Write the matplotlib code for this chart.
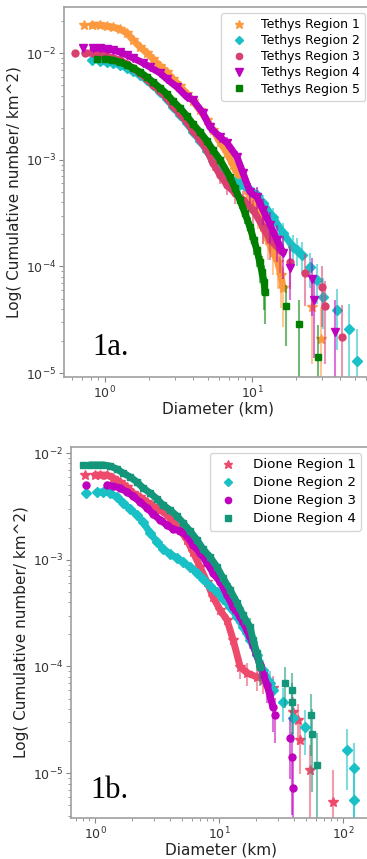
import matplotlib
matplotlib.use('Agg')
import matplotlib.pyplot as plt

# ---- Panel 1a: Tethys regions (diameter km, cumulative number / km^2, error) ----
tethys1_d = [0.72, 0.816, 0.925, 1.03, 1.13, 1.26, 1.41, 1.55, 1.73, 1.93, 2.12, 2.37, 2.64, 2.90,
             3.24, 3.61, 3.97, 4.43, 4.94, 5.43, 6.06, 6.76, 7.43, 8.28, 9.25, 10.2, 11.0, 11.9,
             12.8, 13.9, 15.0, 15.7, 16.3, 25.6, 29.5]
tethys1_n = [0.0183, 0.0183, 0.0183, 0.0179, 0.0175, 0.0168, 0.0154, 0.0133, 0.0114, 0.0100, 0.0088,
             0.00755, 0.00663, 0.0057, 0.0049, 0.00413, 0.00355, 0.0029, 0.00236, 0.0019, 0.00147,
             0.00116, 8.9e-4, 6.7e-4, 5.2e-4, 3.93e-4, 3.03e-4, 2.34e-4, 1.77e-4, 1.36e-4, 1.10e-4,
             8.3e-5, 6.3e-5, 4.17e-5, 2.09e-5]
tethys1_err = [6.2e-4, 6.2e-4, 6.2e-4, 6.1e-4, 6.05e-4, 5.9e-4, 5.7e-4, 5.3e-4, 4.9e-4, 4.6e-4, 4.3e-4,
               3.97e-4, 3.72e-4, 3.45e-4, 3.2e-4, 2.94e-4, 2.72e-4, 2.46e-4, 2.22e-4, 1.99e-4, 1.75e-4,
               1.56e-4, 1.36e-4, 1.18e-4, 1.04e-4, 9.1e-5, 8.0e-5, 7.0e-5, 6.1e-5, 5.3e-5, 4.8e-5,
               4.2e-5, 3.6e-5, 2.95e-5, 2.09e-5]
tethys1_band = 33

tethys2_d = [0.816, 0.925, 1.03, 1.13, 1.26, 1.41, 1.55, 1.73, 1.93, 2.12, 2.37, 2.64, 2.90, 3.24,
             3.61, 3.97, 4.43, 4.94, 5.43, 6.06, 7.08, 8.28, 9.69, 10.8, 11.9, 13.9, 16.3, 19.0,
             20.2, 21.9, 24.8, 27.7, 30.4, 37.9, 45.7, 51.8]
tethys2_n = [0.0086, 0.0084, 0.00824, 0.0081, 0.00773, 0.00723, 0.00678, 0.00622, 0.0056, 0.0050,
             0.00431, 0.00371, 0.00312, 0.00262, 0.00221, 0.00182, 0.0015, 0.00121, 9.7e-4, 7.8e-4,
             6.7e-4, 5.9e-4, 5.2e-4, 4.67e-4, 3.93e-4, 2.9e-4, 2.06e-4, 1.52e-4, 1.43e-4, 1.28e-4,
             9.9e-5, 7.5e-5, 5.2e-5, 3.9e-5, 2.59e-5, 1.30e-5]
tethys2_err = [3.34e-4, 3.3e-4, 3.27e-4, 3.24e-4, 3.17e-4, 3.07e-4, 2.97e-4, 2.84e-4, 2.7e-4, 2.55e-4,
               2.37e-4, 2.2e-4, 2.01e-4, 1.85e-4, 1.7e-4, 1.54e-4, 1.4e-4, 1.25e-4, 1.12e-4, 1.0e-4,
               9.3e-5, 8.8e-5, 8.2e-5, 7.8e-5, 7.1e-5, 6.1e-5, 5.2e-5, 4.4e-5, 4.3e-5, 4.1e-5,
               3.6e-5, 3.1e-5, 2.6e-5, 2.25e-5, 1.83e-5, 1.3e-5]
tethys2_band = 29

tethys3_d = [0.625, 0.73, 0.83, 0.925, 1.03, 1.13, 1.26, 1.41, 1.55, 1.73, 1.93, 2.12, 2.37, 2.64,
             2.90, 3.24, 3.61, 3.97, 4.43, 4.94, 5.43, 6.06, 6.76, 7.66, 8.69, 10.2, 11.9, 13.3,
             15.5, 18.2, 23.0, 29.9, 31.4, 41.0]
tethys3_n = [0.0100, 0.0100, 0.0100, 0.0098, 0.00937, 0.0090, 0.0086, 0.00789, 0.00723, 0.0065,
             0.0057, 0.0050, 0.0044, 0.00379, 0.00318, 0.00268, 0.00225, 0.00186, 0.00153, 0.00123,
             9.3e-4, 7.2e-4, 5.8e-4, 4.88e-4, 4.19e-4, 3.38e-4, 2.34e-4, 1.77e-4, 1.43e-4, 1.10e-4,
             8.7e-5, 6.4e-5, 4.25e-5, 2.18e-5]
tethys3_err = [4.67e-4, 4.67e-4, 4.67e-4, 4.62e-4, 4.52e-4, 4.43e-4, 4.33e-4, 4.15e-4, 3.97e-4, 3.76e-4,
               3.52e-4, 3.3e-4, 3.1e-4, 2.87e-4, 2.63e-4, 2.42e-4, 2.21e-4, 2.01e-4, 1.83e-4, 1.64e-4,
               1.42e-4, 1.25e-4, 1.12e-4, 1.03e-4, 9.6e-5, 8.6e-5, 7.1e-5, 6.2e-5, 5.6e-5, 4.9e-5,
               4.4e-5, 3.7e-5, 3.04e-5, 2.18e-5]
tethys3_band = 29

tethys4_d = [0.71, 0.83, 0.925, 1.03, 1.13, 1.26, 1.41, 1.55, 1.81, 2.02, 2.37, 2.64, 3.09, 3.61,
             3.97, 4.64, 5.18, 6.06, 6.76, 7.91, 8.69, 9.69, 10.8, 11.9, 13.3, 14.8, 16.3, 18.2,
             25.6, 26.4, 36.7]
tethys4_n = [0.0111, 0.0111, 0.0111, 0.0109, 0.0107, 0.0102, 0.0096, 0.0090, 0.0081, 0.0074, 0.0065,
             0.0057, 0.0048, 0.00387, 0.00363, 0.00274, 0.00202, 0.00163, 0.00144, 0.00106, 7.5e-4,
             5.0e-4, 4.47e-4, 3.38e-4, 2.44e-4, 1.77e-4, 1.34e-4, 9.7e-5, 7.7e-5, 4.8e-5, 2.43e-5]
tethys4_err = [5.2e-4, 5.2e-4, 5.2e-4, 5.15e-4, 5.1e-4, 4.98e-4, 4.83e-4, 4.68e-4, 4.44e-4, 4.24e-4,
               3.97e-4, 3.72e-4, 3.42e-4, 3.07e-4, 2.97e-4, 2.58e-4, 2.22e-4, 1.99e-4, 1.87e-4, 1.6e-4,
               1.35e-4, 1.1e-4, 1.04e-4, 9.1e-5, 7.7e-5, 6.6e-5, 5.7e-5, 4.9e-5, 4.3e-5, 3.4e-5, 2.43e-5]
tethys4_band = 27

tethys5_d = [0.88, 1.0, 1.12, 1.26, 1.41, 1.55, 1.73, 1.93, 2.12, 2.37, 2.64, 2.90, 3.24, 3.61, 3.97,
             4.43, 4.94, 5.43, 6.06, 7.08, 7.66, 8.28, 8.96, 9.69, 10.3, 10.8, 11.3, 11.7, 12.1, 12.3,
             17.0, 20.9, 28.1]
tethys5_n = [0.0088, 0.0088, 0.0086, 0.00824, 0.00773, 0.00723, 0.00663, 0.00596, 0.00535, 0.0047,
             0.00413, 0.00355, 0.00305, 0.00257, 0.00216, 0.00182, 0.0015, 0.00123, 0.001, 6.9e-4,
             5.4e-4, 4.19e-4, 3.16e-4, 2.34e-4, 1.77e-4, 1.43e-4, 1.10e-4, 8.9e-5, 7.1e-5, 5.75e-5,
             4.25e-5, 2.88e-5, 1.42e-5]
tethys5_err = [3.5e-4, 3.5e-4, 3.5e-4, 3.4e-4, 3.3e-4, 3.2e-4, 3.07e-4, 2.9e-4, 2.76e-4, 2.58e-4,
               2.42e-4, 2.25e-4, 2.08e-4, 1.91e-4, 1.75e-4, 1.61e-4, 1.46e-4, 1.32e-4, 1.19e-4, 9.9e-5,
               8.8e-5, 7.7e-5, 6.7e-5, 5.8e-5, 5.0e-5, 4.5e-5, 3.95e-5, 3.55e-5, 3.2e-5, 2.86e-5,
               2.46e-5, 2.02e-5, 1.42e-5]
tethys5_band = 30

# ---- Panel 1b: Dione regions ----
dione1_d = [0.83, 1.0, 1.10, 1.25, 1.40, 1.59, 1.81, 2.02, 2.31, 2.63, 2.94, 3.34, 3.81, 4.26, 4.85,
            5.52, 6.17, 7.03, 8.0, 8.95, 10.2, 11.6, 13.0, 14.8, 16.8, 20.2, 22.6, 27.2, 39.5, 43.4,
            45.0, 54.2, 83.0]
dione1_n = [0.00622, 0.00622, 0.00622, 0.00622, 0.00583, 0.00535, 0.0048, 0.00422, 0.00387, 0.00347,
            0.00318, 0.00292, 0.00262, 0.00225, 0.0019, 0.00153, 0.00118, 8.55e-4, 6.18e-4, 4.47e-4,
            3.38e-4, 2.72e-4, 1.77e-4, 9.9e-5, 8.7e-5, 7.96e-5, 7.5e-5, 6.3e-5, 3.74e-5, 3.15e-5,
            2.04e-5, 1.07e-5, 5.36e-6]
dione1_err = [1.83e-4, 1.83e-4, 1.83e-4, 1.83e-4, 1.77e-4, 1.69e-4, 1.6e-4, 1.5e-4, 1.44e-4, 1.36e-4,
              1.31e-4, 1.25e-4, 1.19e-4, 1.1e-4, 1.01e-4, 9.1e-5, 8.0e-5, 6.8e-5, 5.8e-5, 4.9e-5,
              4.3e-5, 3.8e-5, 3.1e-5, 2.3e-5, 2.16e-5, 2.07e-5, 2.0e-5, 1.84e-5, 1.42e-5, 1.3e-5,
              1.05e-5, 7.6e-6, 5.36e-6]
dione1_band = 26

dione2_d = [0.846, 1.04, 1.16, 1.32, 1.50, 1.68, 1.92, 2.18, 2.44, 2.78, 3.16, 3.53, 4.03, 4.58, 5.13,
            5.83, 6.65, 7.43, 8.46, 9.63, 10.8, 12.3, 14.0, 15.6, 17.8, 20.2, 22.6, 25.8, 27.2, 32.8,
            39.5, 49.4, 108, 123, 123]
dione2_n = [0.00422, 0.00431, 0.00431, 0.00422, 0.00387, 0.0034, 0.00298, 0.00262, 0.00225, 0.00178,
            0.00147, 0.00126, 0.00113, 0.00104, 9.5e-4, 8.55e-4, 7.5e-4, 6.6e-4, 5.67e-4, 4.98e-4,
            4.28e-4, 3.6e-4, 2.9e-4, 2.34e-4, 1.77e-4, 1.28e-4, 9.25e-5, 7.0e-5, 6.0e-5, 4.63e-5,
            3.28e-5, 2.7e-5, 1.65e-5, 1.12e-5, 5.6e-6]
dione2_err = [1.54e-4, 1.55e-4, 1.55e-4, 1.54e-4, 1.47e-4, 1.38e-4, 1.29e-4, 1.21e-4, 1.12e-4, 1.0e-4,
              9.1e-5, 8.4e-5, 8.0e-5, 7.6e-5, 7.3e-5, 6.9e-5, 6.5e-5, 6.1e-5, 5.6e-5, 5.3e-5,
              4.9e-5, 4.5e-5, 4.0e-5, 3.6e-5, 3.15e-5, 2.68e-5, 2.28e-5, 1.98e-5, 1.83e-5, 1.61e-5,
              1.36e-5, 1.23e-5, 9.6e-6, 7.9e-6, 5.6e-6]
dione2_band = 29

dione3_d = [0.846, 1.25, 1.40, 1.59, 1.81, 2.02, 2.31, 2.63, 2.94, 3.34, 3.81, 4.26, 4.85, 5.52, 6.17,
            7.03, 8.0, 8.95, 10.2, 11.6, 13.0, 14.8, 16.8, 18.8, 21.4, 24.4, 27.2, 28.3, 37.4, 38.8, 39.5]
dione3_n = [0.0050, 0.0050, 0.0049, 0.0047, 0.00431, 0.00395, 0.00347, 0.00305, 0.00268, 0.00236,
            0.00211, 0.00194, 0.00186, 0.00167, 0.00137, 0.00116, 9.3e-4, 7.5e-4, 6.18e-4, 4.67e-4,
            3.6e-4, 2.9e-4, 2.19e-4, 1.59e-4, 1.03e-4, 6.7e-5, 4.17e-5, 3.5e-5, 2.13e-5, 1.42e-5, 7.25e-6]
dione3_err = [1.9e-4, 1.9e-4, 1.88e-4, 1.85e-4, 1.77e-4, 1.69e-4, 1.59e-4, 1.49e-4, 1.39e-4, 1.31e-4,
              1.24e-4, 1.19e-4, 1.16e-4, 1.1e-4, 1.0e-4, 9.2e-5, 8.2e-5, 7.4e-5, 6.7e-5, 5.8e-5,
              5.1e-5, 4.6e-5, 4.0e-5, 3.4e-5, 2.7e-5, 2.2e-5, 1.74e-5, 1.6e-5, 1.24e-5, 1.01e-5, 7.25e-6]
dione3_band = 27

dione4_d = [0.80, 0.91, 1.04, 1.16, 1.32, 1.50, 1.68, 1.92, 2.18, 2.44, 2.78, 3.16, 3.53, 4.03, 4.58,
            5.13, 5.83, 6.65, 7.43, 8.46, 9.63, 10.8, 12.3, 14.0, 15.6, 17.8, 18.8, 20.2, 21.4, 34.1,
            38.8, 38.8, 55.2, 56.2, 61.7]
dione4_n = [0.00773, 0.00773, 0.00773, 0.00773, 0.00755, 0.00708, 0.0065, 0.00596, 0.00535, 0.0047,
            0.00422, 0.00371, 0.00326, 0.00292, 0.00257, 0.00221, 0.00186, 0.00153, 0.00126, 0.00106,
            8.55e-4, 6.7e-4, 5.2e-4, 3.93e-4, 3.03e-4, 2.34e-4, 1.77e-4, 1.34e-4, 9.9e-5, 7.0e-5,
            6.0e-5, 4.63e-5, 3.5e-5, 2.32e-5, 1.19e-5]
dione4_err = [3.03e-4, 3.03e-4, 3.03e-4, 3.03e-4, 3.0e-4, 2.9e-4, 2.78e-4, 2.66e-4, 2.52e-4, 2.37e-4,
              2.24e-4, 2.1e-4, 1.97e-4, 1.86e-4, 1.75e-4, 1.62e-4, 1.49e-4, 1.35e-4, 1.22e-4, 1.12e-4,
              1.01e-4, 8.9e-5, 7.9e-5, 6.8e-5, 6.0e-5, 5.3e-5, 4.6e-5, 4.0e-5, 3.4e-5, 2.9e-5,
              2.67e-5, 2.35e-5, 2.04e-5, 1.66e-5, 1.19e-5]
dione4_band = 29


def draw_region(ax, d, n, err, band, label, color, marker, ms, z):
    ax.errorbar(d, n, yerr=err, fmt='none', ecolor=color, alpha=0.55, elinewidth=1.5, zorder=z)
    ax.plot(d[1:band], n[1:band], '-', color=color, lw=5, solid_capstyle='round', zorder=z + 0.01)
    ax.plot(d, n, ls='none', marker=marker, ms=ms, color=color, mec=color, label=label, zorder=z + 0.02)


def style_axes(ax):
    ax.set_xscale('log')
    ax.set_yscale('log')
    for s in ax.spines.values():
        s.set_color('#a0a0a0')
        s.set_linewidth(1.2)
    ax.tick_params(which='both', colors='#888888', labelcolor='#333333', labelsize=9, pad=2)
    ax.set_xlabel('Diameter (km)', fontsize=11, color='#222222', labelpad=0)
    ax.set_ylabel('Log( Cumulative number/ km^2)', fontsize=11, color='#222222', labelpad=3)


fig = plt.figure(figsize=(3.67, 8.59), dpi=100)

# Panel 1a
ax1 = fig.add_axes([0.1744, 0.5611, 0.839, 0.4307])
tethys = [
    (tethys1_d, tethys1_n, tethys1_err, tethys1_band, 'Tethys Region 1', '#fd9a40', '*', 7),
    (tethys2_d, tethys2_n, tethys2_err, tethys2_band, 'Tethys Region 2', '#19c0c6', 'D', 5),
    (tethys3_d, tethys3_n, tethys3_err, tethys3_band, 'Tethys Region 3', '#d9406f', 'o', 5),
    (tethys4_d, tethys4_n, tethys4_err, tethys4_band, 'Tethys Region 4', '#bf00bf', 'v', 6),
    (tethys5_d, tethys5_n, tethys5_err, tethys5_band, 'Tethys Region 5', '#007f00', 's', 5),
]
for i, (d, n, e, b, lab, c, m, ms) in enumerate(tethys):
    draw_region(ax1, d, n, e, b, lab, c, m, ms, 2 + i * 0.1)
style_axes(ax1)
ax1.set_xlim(0.526, 65.5)
ax1.set_ylim(9.2e-6, 0.027)
ax1.legend(loc='upper right', bbox_to_anchor=(365 / 367, 1 - 13 / 859),
           bbox_transform=fig.transFigure, borderaxespad=0, fontsize=9,
           labelspacing=0.25, numpoints=1, markerscale=0.9)
ax1.text(0.092, 0.059, '1a.', transform=ax1.transAxes, fontsize=22,
         family='Liberation Serif', color='black')

# Panel 1b
ax2 = fig.add_axes([0.1935, 0.0477, 0.820, 0.4319])
dione = [
    (dione1_d, dione1_n, dione1_err, dione1_band, 'Dione Region 1', '#ee4a6c', '*', 7),
    (dione2_d, dione2_n, dione2_err, dione2_band, 'Dione Region 2', '#19c0c6', 'D', 5),
    (dione3_d, dione3_n, dione3_err, dione3_band, 'Dione Region 3', '#bf00bf', 'o', 5),
    (dione4_d, dione4_n, dione4_err, dione4_band, 'Dione Region 4', '#14967a', 's', 5),
]
for i, (d, n, e, b, lab, c, m, ms) in enumerate(dione):
    draw_region(ax2, d, n, e, b, lab, c, m, ms, 2 + i * 0.1)
style_axes(ax2)
ax2.set_xlim(0.64, 171)
ax2.set_ylim(3.8e-6, 0.01138)
ax2.legend(loc='upper right', bbox_to_anchor=(361 / 367, 1 - 453 / 859),
           bbox_transform=fig.transFigure, borderaxespad=0, fontsize=9.7,
           labelspacing=0.37, numpoints=1, markerscale=0.9)
ax2.text(0.064, 0.054, '1b.', transform=ax2.transAxes, fontsize=22,
         family='Liberation Serif', color='black')

fig.savefig('out.png', dpi=100)
